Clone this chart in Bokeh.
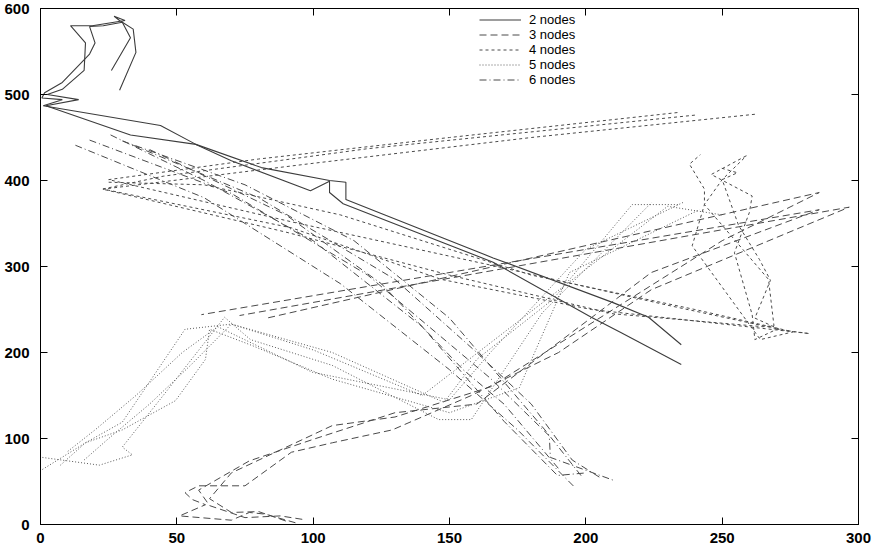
from bokeh.plotting import figure
from bokeh.models import Range1d, FixedTicker, LinearAxis, Legend, LegendItem
from bokeh.embed import file_html
from bokeh.resources import INLINE

# ---------------- data ----------------
x_ticks = [0, 50, 100, 150, 200, 250, 300]
y_ticks = [0, 100, 200, 300, 400, 500, 600]
series_labels = ["2 nodes", "3 nodes", "4 nodes", "5 nodes", "6 nodes"]

# 2 nodes (solid)
n2_x = [
    [29, 35, 34, 29, 27, 31, 19, 11, 16.5, 16, 8, 2.5, 14, 2, 33, 57, 70, 99, 106, 106, 111, 166, 202, 213, 235],
    [26, 33, 30, 23, 18, 20, 18, 8, 1.5, 0.5, 8, 1, 44, 57, 81, 106, 112, 112, 166, 210, 223, 235],
]
n2_y = [
    [505, 549, 576, 586, 591, 586, 580, 580, 560, 528, 506, 500, 494, 487, 453, 442, 423, 388, 399, 386, 373, 305, 241, 223, 186],
    [528, 566, 584, 580, 579, 560, 547, 514, 502, 496, 494, 487, 464, 442, 415, 400, 398, 378, 310, 258, 241, 209],
]

# 3 nodes (long dashes)
n3_x = [
    [93.5, 82.5, 76.6, 70, 51, 60.5, 55.7, 53, 58, 75, 92, 107, 129, 158, 190, 224, 296.6, 73],
    [96, 88, 75, 62, 58, 76.6, 100, 130, 160, 224, 285.6, 59],
    [90, 80, 70, 62, 70, 107, 130, 165, 200, 250, 285.6, 83],
]
n3_y = [
    [2, 12, 14, 5, 10, 23, 29, 37, 45, 45, 84, 95, 110, 150, 200, 273, 369, 243],
    [6, 10, 8, 22, 40, 74, 99, 130, 140, 293, 366, 244],
    [4, 15, 14, 30, 60, 115, 125, 160, 230, 330, 386, 240],
]

# 4 nodes (short dashes)
n4_x = [
    [262, 180, 100, 23, 92, 147, 202, 282, 270, 262, 261, 254.5, 260, 261, 246, 259],
    [233.6, 150, 80, 25, 92, 166, 230, 271, 262, 267.7, 263.7, 256, 250, 255.6, 249],
    [240, 120, 45, 22.7, 90, 150, 210, 265, 269, 267, 243.5, 243.5, 238, 242],
    [25, 60, 110, 180, 240, 276, 264, 239, 243.5, 250, 259],
]
n4_y = [
    [477, 450, 420, 390, 345, 285, 250, 222, 227, 215, 244, 316, 363, 382, 407, 429],
    [479, 450, 425, 401, 352, 301, 255, 227, 240, 284, 308, 348, 401, 409, 415],
    [476, 437, 405, 390, 340, 290, 245, 230, 231, 285, 372, 390, 419, 430],
    [398, 395, 360, 290, 250, 224, 215, 324, 372, 401, 429],
]

# 5 nodes (dotted)
n5_x = [
    [0.7, 16.5, 30, 53, 70, 107, 148, 160, 188, 217, 234],
    [0.7, 21.6, 33.7, 30, 45, 67.5, 77, 107, 146, 158, 184, 224],
    [7.3, 16.5, 30, 49.5, 60.5, 62, 77.7, 107, 150, 175.6, 194, 241.6],
    [16, 25, 40, 55, 70, 100, 140, 178, 230, 250],
    [10, 20, 35, 52, 65, 99.7, 150, 165, 200, 236],
]
n5_y = [
    [64, 95, 119, 227, 233, 200, 142, 192, 262, 372, 372],
    [78, 69, 81, 90, 150, 241, 215, 185, 122, 122, 246, 374],
    [69, 95, 110, 144, 192, 227, 208, 169, 130, 159, 293, 366],
    [75, 100, 140, 185, 233, 203, 150, 243, 370, 360],
    [85, 110, 150, 200, 230, 177, 145, 200, 320, 375],
]

# 6 nodes (dash-dot)
n6_x = [
    [12.8, 60, 110, 150, 175, 196],
    [18, 70, 120, 165, 186.6, 187, 210.5],
    [25.7, 60, 100, 140, 170, 189.6, 200],
    [30, 75, 115, 150, 185, 198.7],
    [34, 80, 130, 160, 180, 195, 205],
    [40, 90, 125, 155, 170, 190],
]
n6_y = [
    [441, 380, 280, 180, 110, 43],
    [447, 385, 290, 170, 103, 78, 51],
    [453, 400, 330, 230, 120, 57, 60],
    [446, 395, 330, 240, 110, 55],
    [441, 380, 285, 200, 140, 75, 55],
    [436, 360, 280, 180, 140, 65],
]

# ---------------- figure ----------------
p = figure(width=873, height=550,
           x_range=Range1d(0, 300), y_range=Range1d(0, 600),
           output_backend="svg", toolbar_location=None,
           min_border_left=40, min_border_right=15,
           min_border_top=8, min_border_bottom=26)
p.outline_line_color = "black"
p.xgrid.grid_line_color = None
p.ygrid.grid_line_color = None
p.background_fill_color = "white"
p.border_fill_color = "white"

for ax, ticks in ((p.xaxis[0], x_ticks), (p.yaxis[0], y_ticks)):
    ax.ticker = FixedTicker(ticks=ticks)
    ax.major_tick_in = 7
    ax.major_tick_out = 0
    ax.minor_tick_line_color = None
    ax.axis_line_color = "black"
    ax.major_tick_line_color = "black"
    ax.major_label_text_font = "Liberation Sans"
    ax.major_label_text_font_style = "bold"
    ax.major_label_text_font_size = "15px"
    ax.major_label_text_color = "black"
p.xaxis[0].major_label_standoff = 8
p.yaxis[0].major_label_standoff = 11

# mirror ticks on top and right (no labels drawn)
top_ax = LinearAxis(ticker=FixedTicker(ticks=x_ticks))
right_ax = LinearAxis(ticker=FixedTicker(ticks=y_ticks))
for ax in (top_ax, right_ax):
    ax.major_tick_in = 7
    ax.major_tick_out = 0
    ax.minor_tick_line_color = None
    ax.major_label_text_font_size = "1px"
    ax.major_label_text_color = None
    ax.major_label_standoff = 0
    ax.axis_line_color = "black"
    ax.major_tick_line_color = "black"
p.add_layout(top_ax, "above")
p.add_layout(right_ax, "right")

styles = [
    (n2_x, n2_y, "solid", "#3c3c3c", 1.1),
    (n3_x, n3_y, "7 4", "#4a4a4a", 1.0),
    (n4_x, n4_y, "3 3", "#4a4a4a", 1.0),
    (n5_x, n5_y, "1 2", "#5a5a5a", 1.0),
    (n6_x, n6_y, "7 3 1 3", "#4a4a4a", 1.0),
]
# one small legend per entry, stacked
for i, ((xs, ys, dash, col, lw), lab) in enumerate(zip(styles, series_labels)):
    r = p.multi_line(xs=xs, ys=ys, line_color=col, line_width=lw, line_dash=dash)
    leg = Legend(items=[LegendItem(label=lab, renderers=[r])],
                 location=(439, 497 - 15 * i))
    leg.glyph_width = 42
    leg.glyph_height = 13
    leg.label_height = 13
    leg.spacing = 0
    leg.padding = 0
    leg.margin = 0
    leg.label_standoff = 8
    leg.border_line_alpha = 0
    leg.background_fill_alpha = 0
    leg.label_text_font = "Liberation Sans"
    leg.label_text_font_size = "13px"
    leg.label_text_color = "black"
    p.add_layout(leg, "center")

open("out.html", "w").write(file_html(p, INLINE))
